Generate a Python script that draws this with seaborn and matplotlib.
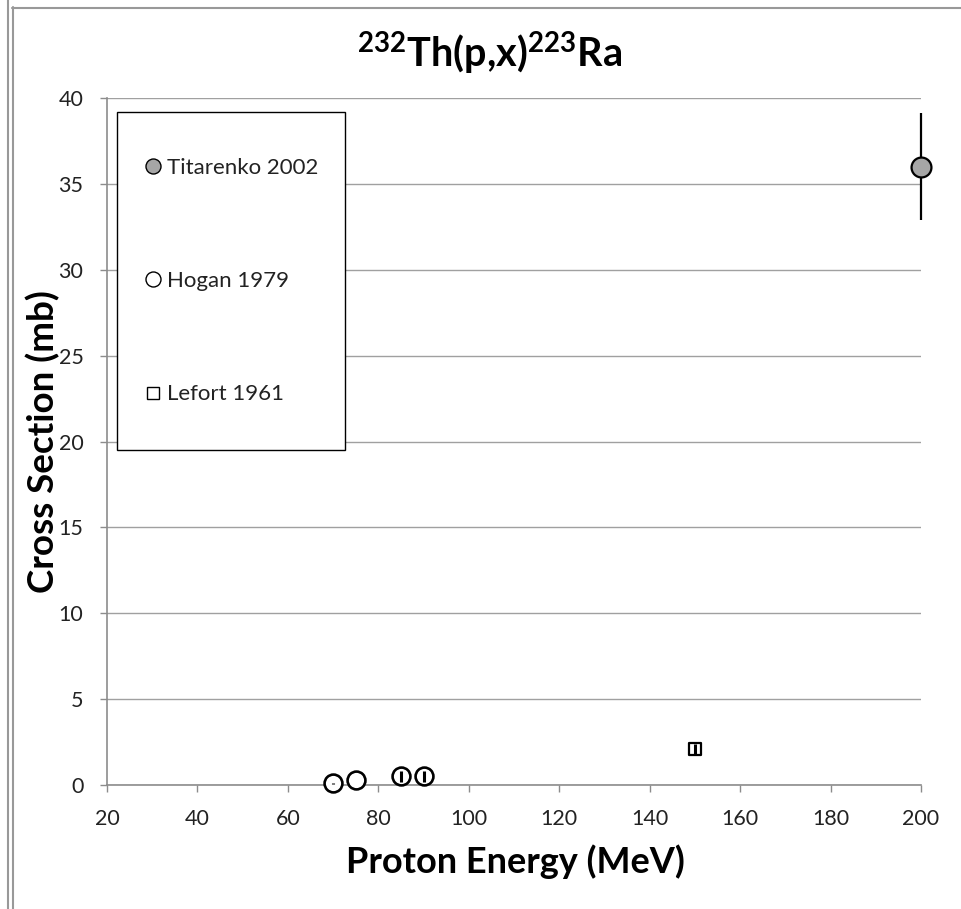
import numpy as np
import pandas as pd
import matplotlib
matplotlib.use("Agg")
import matplotlib.pyplot as plt
from matplotlib.lines import Line2D
from matplotlib.patches import Rectangle
import seaborn as sns

# ---- data ----
tit_energy = [200]
tit_xs = [36.0]
tit_err = [3.1]

hogan_energy = [70, 75, 85, 90]
hogan_xs = [0.1, 0.3, 0.5, 0.5]
hogan_err = [0.02, 0.02, 0.3, 0.3]

lefort_energy = [150]
lefort_xs = [2.1]
lefort_err = [0.3]

series_labels = ["Titarenko 2002", "Hogan 1979", "Lefort 1961"]
x_ticks = [20, 40, 60, 80, 100, 120, 140, 160, 180, 200]
y_ticks = [0, 5, 10, 15, 20, 25, 30, 35, 40]

sns.set_theme(style="white")
plt.rcParams['font.family'] = ['Lato', 'DejaVu Sans']
plt.rcParams['mathtext.fontset'] = 'custom'
plt.rcParams['mathtext.rm'] = 'Lato:bold'
plt.rcParams['mathtext.bf'] = 'Lato:bold'
plt.rcParams['mathtext.default'] = 'rm'

W, H = 961, 909
L, R, T, B = 107, 921, 98, 785
fig = plt.figure(figsize=(W / 100, H / 100), dpi=100)
ax = fig.add_axes([L / W, 1 - B / H, (R - L) / W, (B - T) / H])

def ax_x(px):
    return (px - L) / (R - L)

def ax_y(py):
    return (B - py) / (B - T)

df_t = pd.DataFrame({"E": tit_energy, "XS": tit_xs})
df_h = pd.DataFrame({"E": hogan_energy, "XS": hogan_xs})
df_l = pd.DataFrame({"E": lefort_energy, "XS": lefort_xs})

# error bars + markers
eb = ax.errorbar(tit_energy, tit_xs, yerr=tit_err, fmt="none", ecolor="black",
                 elinewidth=1.6, capsize=0, zorder=3)
sns.scatterplot(data=df_t, x="E", y="XS", ax=ax, marker="o", s=205,
                color="#a6a6a6", edgecolor="black", linewidth=1.6, zorder=4,
                clip_on=False)
sns.scatterplot(data=df_h, x="E", y="XS", ax=ax, marker="o", s=165,
                color="white", edgecolor="black", linewidth=1.9, zorder=4,
                clip_on=False)
eb2 = ax.errorbar(hogan_energy, hogan_xs, yerr=hogan_err, fmt="none", ecolor="black",
                  elinewidth=2.2, capsize=0, zorder=5)
sns.scatterplot(data=df_l, x="E", y="XS", ax=ax, marker="s", s=85,
                color="white", edgecolor="black", linewidth=1.6, zorder=4,
                clip_on=False)
eb3 = ax.errorbar(lefort_energy, lefort_xs, yerr=lefort_err, fmt="none", ecolor="black",
                  elinewidth=2.2, capsize=0, zorder=5)
for e in (eb, eb2, eb3):
    for lc in e.lines[2]:
        lc.set_clip_on(False)

ax.set_xlim(20, 200)
ax.set_ylim(0, 40)
ax.set_xticks(x_ticks)
ax.set_yticks(y_ticks)
ax.set_xticklabels([str(v) for v in x_ticks])
ax.set_yticklabels([str(v) for v in y_ticks])

ax.grid(axis="y", color="#a0a0a0", linewidth=1.0)
ax.grid(axis="x", visible=False)
ax.set_axisbelow(True)
for s in ["top", "right"]:
    ax.spines[s].set_visible(False)
for s in ["left", "bottom"]:
    ax.spines[s].set_color("#8c8c8c")
    ax.spines[s].set_linewidth(1.2)

ax.tick_params(axis="both", which="major", direction="out", length=5,
               width=1.0, color="#8c8c8c", labelsize=15.5, labelcolor="#222222")
ax.tick_params(axis="y", pad=12, left=True)
ax.tick_params(axis="x", pad=12, bottom=True)

# title centred on the chart area
fig.text(490 / W, 1 - 67 / H, "$^{232}$Th(p,x)$^{223}$Ra", fontsize=28.5,
         fontweight="bold", ha="center", va="baseline", color="black")

ax.set_xlabel("Proton Energy (MeV)", fontsize=26, fontweight="bold", color="black")
ax.set_ylabel("Cross Section (mb)", fontsize=26.5, fontweight="bold", color="black")
ax.xaxis.set_label_coords(ax_x(515), ax_y(873))
ax.xaxis.label.set_va("baseline")
ax.yaxis.set_label_coords(ax_x(43), ax_y(442))
ax.yaxis.label.set_va("center")

# legend box
box_l, box_r, box_t, box_b = 117, 345, 112, 450
ax.add_patch(Rectangle((ax_x(box_l), ax_y(box_b)), ax_x(box_r) - ax_x(box_l),
                       ax_y(box_t) - ax_y(box_b), transform=ax.transAxes,
                       facecolor="white", edgecolor="black", linewidth=1.0,
                       zorder=6))
handles = [
    Line2D([], [], linestyle="none", marker="o", markersize=10.8,
           markerfacecolor="#a6a6a6", markeredgecolor="black", markeredgewidth=1.0),
    Line2D([], [], linestyle="none", marker="o", markersize=10.8,
           markerfacecolor="white", markeredgecolor="black", markeredgewidth=1.0),
    Line2D([], [], linestyle="none", marker="s", markersize=9,
           markerfacecolor="white", markeredgecolor="black", markeredgewidth=1.0),
]
leg = ax.legend(handles, series_labels, loc="center",
                bbox_to_anchor=(ax_x((box_l + box_r) / 2), ax_y((box_t + box_b) / 2)),
                fontsize=16, frameon=False, borderpad=0, labelspacing=4.2,
                handlelength=0.8, handletextpad=0.25, borderaxespad=0,
                labelcolor="#222222")
leg.set_zorder(7)

# outer frame lines
fig.add_artist(Line2D([7.5 / W, 7.5 / W], [0, 1], transform=fig.transFigure,
                      color="#999999", linewidth=1.5))
fig.add_artist(Line2D([12.5 / W, 12.5 / W], [0, 1 - 7 / H], transform=fig.transFigure,
                      color="#999999", linewidth=1.5))
fig.add_artist(Line2D([12 / W, 1], [1 - 7.5 / H, 1 - 7.5 / H], transform=fig.transFigure,
                      color="#999999", linewidth=1.5))

fig.savefig("out.png", dpi=100)
